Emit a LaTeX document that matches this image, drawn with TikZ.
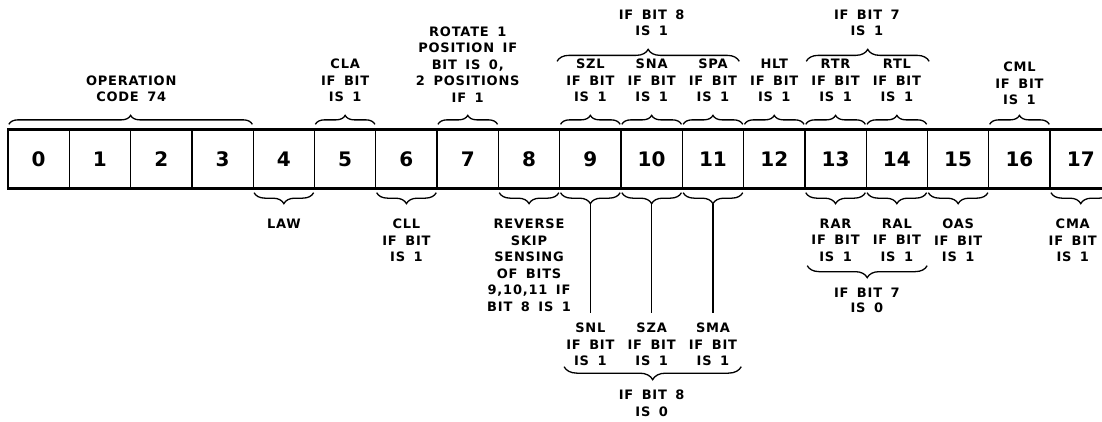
\documentclass[tikz,border=0pt]{standalone}
\usepackage{fontspec}
\setmainfont{DejaVu Sans}
\newfontfamily\lblfont[LetterSpace=6,WordSpace=1.6]{DejaVu Sans}
\usetikzlibrary{positioning,decorations.pathreplacing}

\begin{document}
\begin{tikzpicture}[x=1pt,y=-1pt,
  cell/.style={shape=rectangle,draw,line width=1.3pt,minimum width=61.3pt,minimum height=58pt,inner sep=0pt,font=\fontsize{20}{20}\selectfont\bfseries},
  lbl/.style={inner sep=0pt,align=center,font=\lblfont\fontsize{13}{16.5}\selectfont\bfseries},
  regline/.style={line width=2.4pt},
  topbrace/.style={decorate,decoration={brace,amplitude=9pt},line width=1.3pt},
  bigtop/.style={decorate,decoration={brace,amplitude=12pt},line width=1.3pt},
  botbrace/.style={decorate,decoration={brace,mirror,amplitude=11pt},line width=1.3pt},
  bigbot/.style={decorate,decoration={brace,mirror,amplitude=13pt},line width=1.3pt},
  stem/.style={line width=1.3pt}]
\clip (0,0) rectangle (1102,421);

% register cells
\foreach \i in {0,...,17}
  \path (38.65+61.3*\i,159) node (c\i) [cell] {\i};
\draw [regline] (c0.north west) -- (c17.north east);
\draw [regline] (c0.south west) -- (c17.south east);

% braces above
\draw [topbrace] ([xshift=1.5pt,yshift=5pt]c0.north west) -- ([xshift=-1.5pt,yshift=5pt]c3.north east);
\foreach \i in {5,7,9,10,11,12,13,14,16}
  \draw [topbrace] ([xshift=1.5pt,yshift=5pt]c\i.north west) -- ([xshift=-1.5pt,yshift=5pt]c\i.north east);
\draw [bigtop] ([xshift=-2pt,yshift=68pt]c9.north west) -- ([xshift=-5pt,yshift=68pt]c11.north east);
\draw [bigtop] ([xshift=2pt,yshift=68pt]c13.north west) -- ([xshift=1pt,yshift=68pt]c14.north east);

\node (opcode) [lbl,above=27pt of c1.north east] {OPERATION\\CODE 74};
\node (cla) [lbl,above=27pt of c5.north] {CLA\\IF BIT\\IS 1};
\node (rotate) [lbl,above=27pt of c7.north] {ROTATE 1\\POSITION IF\\BIT IS 0,\\2 POSITIONS\\IF 1};
\node (szl) [lbl,above=27pt of c9.north] {SZL\\IF BIT\\IS 1};
\node (sna) [lbl,above=27pt of c10.north] {SNA\\IF BIT\\IS 1};
\node (spa) [lbl,above=27pt of c11.north] {SPA\\IF BIT\\IS 1};
\node (hlt) [lbl,above=27pt of c12.north] {HLT\\IF BIT\\IS 1};
\node (rtr) [lbl,above=27pt of c13.north] {RTR\\IF BIT\\IS 1};
\node (rtl) [lbl,above=27pt of c14.north] {RTL\\IF BIT\\IS 1};
\node (cml) [lbl,above=24pt of c16.north] {CML\\IF BIT\\IS 1};
\node (bit8one) [lbl,above=93pt of c10.north] {IF BIT 8\\IS 1};
\node (bit7one) [lbl,above=93pt of c13.north east] {IF BIT 7\\IS 1};

% braces below
\foreach \i in {4,6,8,9,10,11,13,14,15,17}
  \draw [botbrace] ([xshift=1.5pt,yshift=-4pt]c\i.south west) -- ([xshift=-1.5pt,yshift=-4pt]c\i.south east);
\foreach \i in {9,10,11}
  \coordinate (t\i) at ([yshift=-15pt]c\i.south);

\node (law) [lbl,below=30pt of c4.south] {LAW};
\node (cll) [lbl,below=30pt of c6.south] {CLL\\IF BIT\\IS 1};
\node (reverse) [lbl,below=30pt of c8.south] {REVERSE\\SKIP\\SENSING\\OF BITS\\9,10,11 IF\\BIT 8 IS 1};
\node (rar) [lbl,below=30pt of c13.south] {RAR\\IF BIT\\IS 1};
\node (ral) [lbl,below=30pt of c14.south] {RAL\\IF BIT\\IS 1};
\node (oas) [lbl,below=30pt of c15.south] {OAS\\IF BIT\\IS 1};
\node (cma) [lbl,below=30pt of c17.south,xshift=-8pt] {CMA\\IF BIT\\IS 1};
\node (snl) [lbl,below=134pt of c9.south] {SNL\\IF BIT\\IS 1};
\node (sza) [lbl,below=134pt of c10.south] {SZA\\IF BIT\\IS 1};
\node (sma) [lbl,below=134pt of c11.south] {SMA\\IF BIT\\IS 1};

\draw [stem,shorten >=10pt] (t9) -- (snl.north);
\draw [stem,shorten >=10pt] (t10) -- (sza.north);
\draw [stem,shorten >=10pt] (t11) -- (sma.north);

\draw [bigbot] ([xshift=5pt,yshift=-178pt]c9.south west) -- ([xshift=-3pt,yshift=-178pt]c11.south east);
\draw [bigbot,decoration={amplitude=12pt}] ([xshift=3pt,yshift=-77pt]c13.south west) -- ([xshift=-1pt,yshift=-77pt]c14.south east);
\node (bit8zero) [lbl,font=\lblfont\fontsize{13}{17}\selectfont\bfseries,below=201pt of c10.south] {IF BIT 8\\IS 0};
\node (bit7zero) [lbl,font=\lblfont\fontsize{13}{15}\selectfont\bfseries,below=99pt of c13.south east] {IF BIT 7\\IS 0};
\end{tikzpicture}
\end{document}
